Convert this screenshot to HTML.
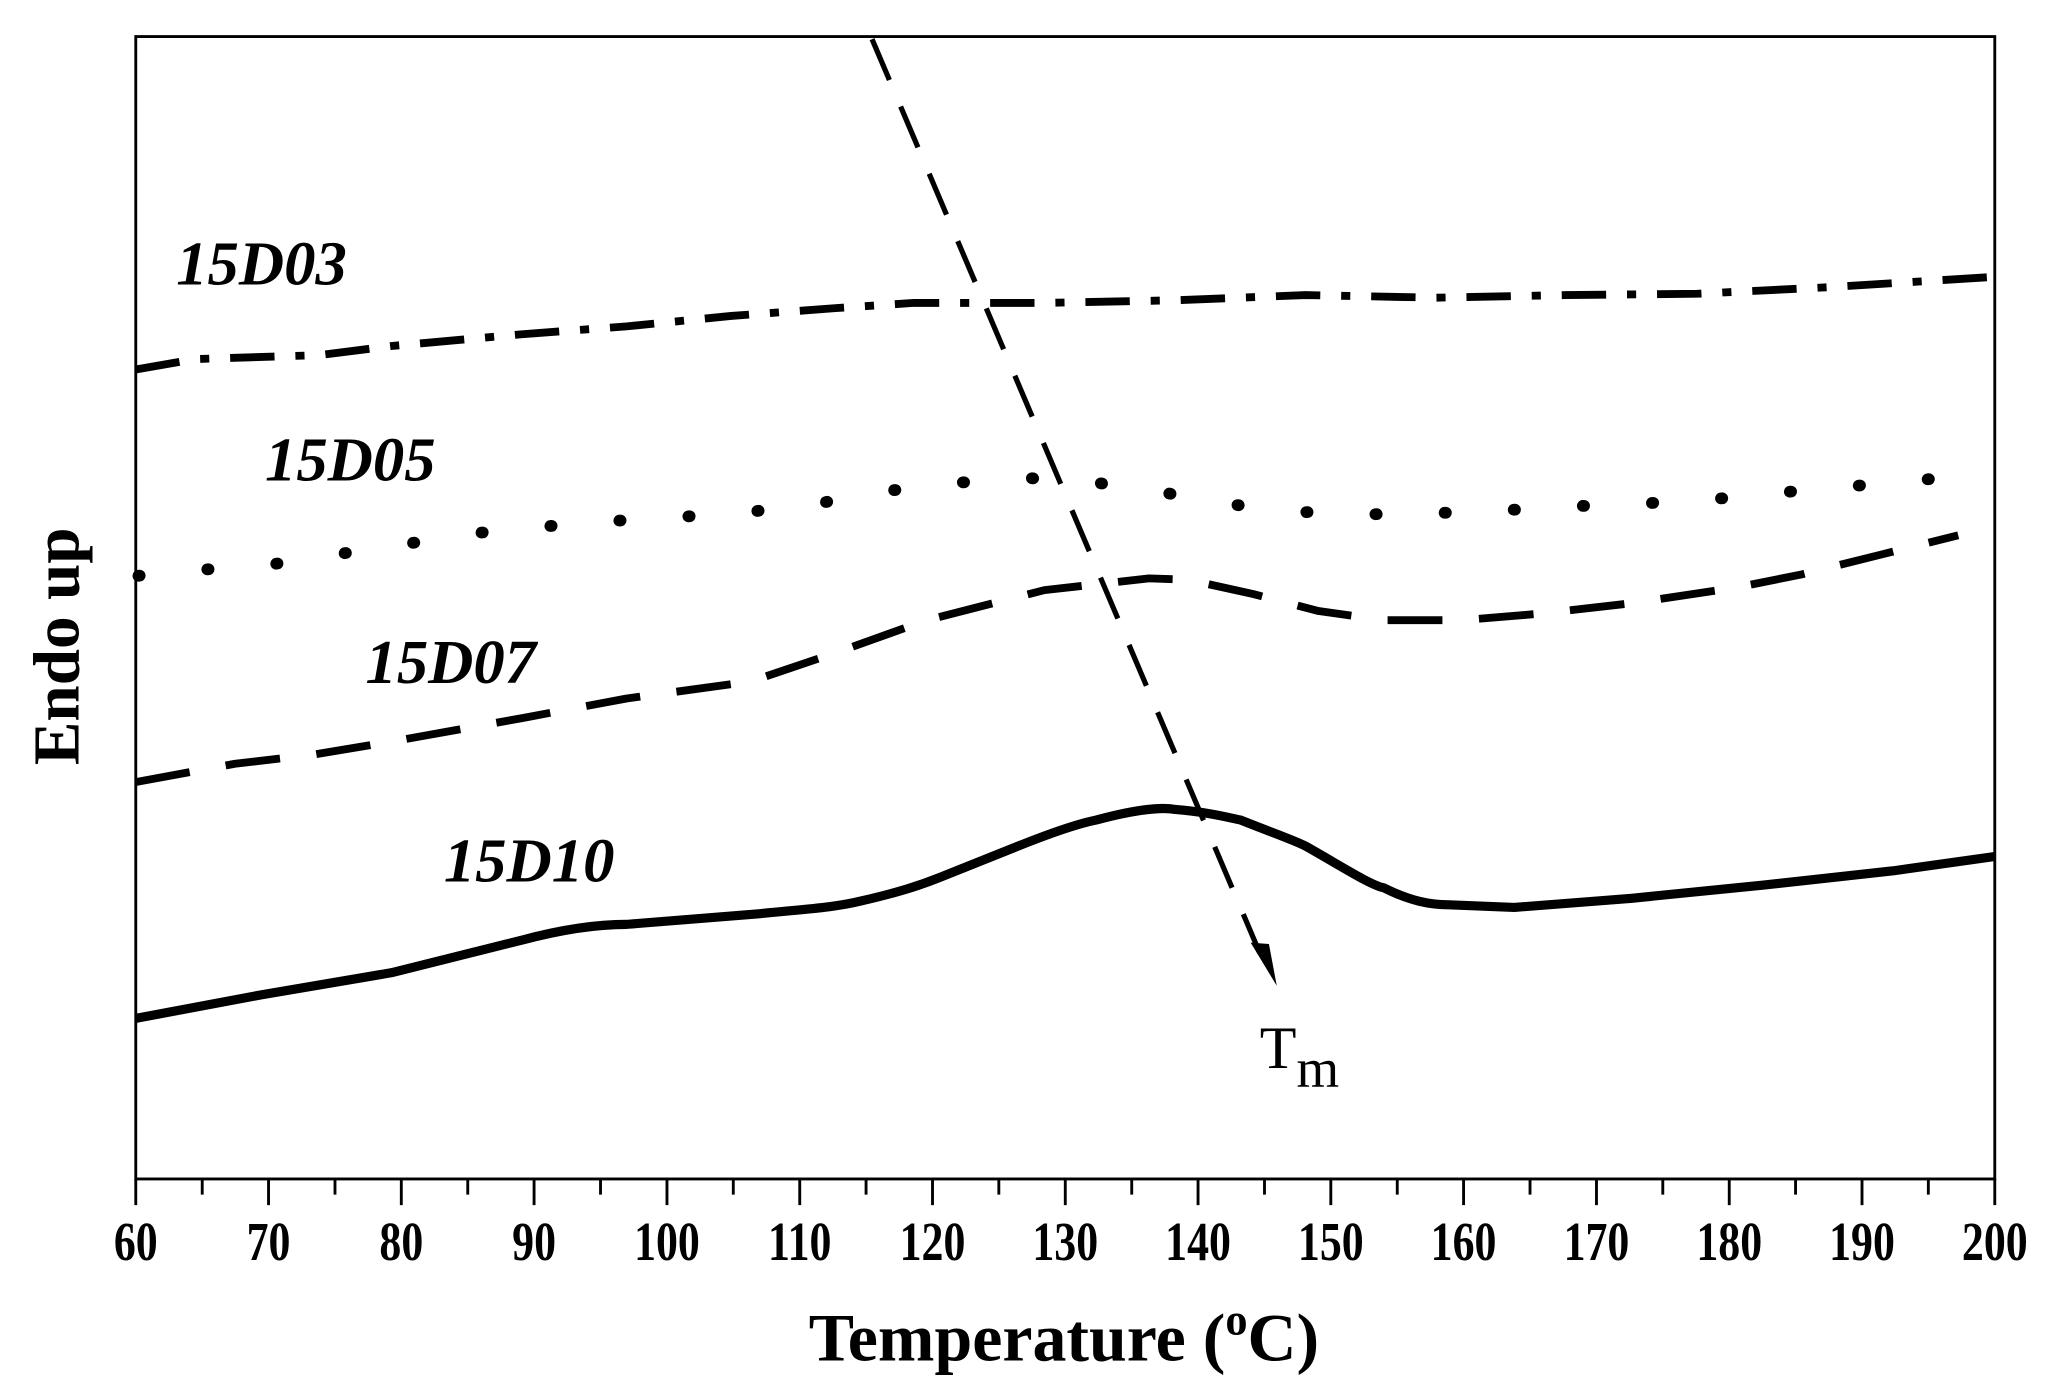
<!DOCTYPE html>
<html><head><meta charset="utf-8"><style>html,body{margin:0;padding:0;background:#fff}svg{display:block}</style></head>
<body>
<svg width="2047" height="1397" viewBox="0 0 1568 1070" preserveAspectRatio="none" xmlns="http://www.w3.org/2000/svg">
<rect width="1568" height="1070" fill="#fff"/>
<g stroke="#000" stroke-width="2.2" fill="none">
<rect x="104" y="28" width="1424" height="875"/>
<path d="M104,903v20M154.9,903v12M205.7,903v20M256.6,903v12M307.4,903v20M358.3,903v12M409.1,903v20M460,903v12M510.9,903v20M561.7,903v12M612.6,903v20M663.4,903v12M714.3,903v20M765.1,903v12M816,903v20M866.9,903v12M917.7,903v20M968.6,903v12M1019.4,903v20M1070.3,903v12M1121.1,903v20M1172,903v12M1222.9,903v20M1273.7,903v12M1324.6,903v20M1375.4,903v12M1426.3,903v20M1477.1,903v12M1528,903v20"/>
</g>
<g font-family="Liberation Serif, serif" font-weight="bold" font-size="42" text-anchor="middle" fill="#000">
<text transform="translate(104,965) scale(0.8,1)">60</text><text transform="translate(205.7,965) scale(0.8,1)">70</text><text transform="translate(307.4,965) scale(0.8,1)">80</text><text transform="translate(409.1,965) scale(0.8,1)">90</text><text transform="translate(510.9,965) scale(0.8,1)">100</text><text transform="translate(612.6,965) scale(0.8,1)">110</text><text transform="translate(714.3,965) scale(0.8,1)">120</text><text transform="translate(816,965) scale(0.8,1)">130</text><text transform="translate(917.7,965) scale(0.8,1)">140</text><text transform="translate(1019.4,965) scale(0.8,1)">150</text><text transform="translate(1121.1,965) scale(0.8,1)">160</text><text transform="translate(1222.9,965) scale(0.8,1)">170</text><text transform="translate(1324.6,965) scale(0.8,1)">180</text><text transform="translate(1426.3,965) scale(0.8,1)">190</text><text transform="translate(1528,965) scale(0.8,1)">200</text>
</g>
<text x="815" y="1042" font-family="Liberation Serif, serif" font-weight="bold" font-size="52" text-anchor="middle">Temperature (<tspan font-size="34" dy="-20">o</tspan><tspan dy="20">C)</tspan></text>
<text transform="translate(60,495) rotate(-90)" font-family="Liberation Serif, serif" font-weight="bold" font-size="50" text-anchor="middle">Endo up</text>
<g font-family="Liberation Serif, serif" font-weight="bold" font-style="italic" font-size="48">
<text x="135" y="218">15D03</text><text x="203" y="368">15D05</text><text x="280" y="523">15D07</text><text x="340" y="675">15D10</text>
</g>
<text x="965" y="818" font-family="Liberation Serif, serif" font-size="46">T<tspan font-size="42" dy="14">m</tspan></text>
<g fill="none" stroke="#000" stroke-linecap="butt" stroke-linejoin="round">
<path stroke-width="6" stroke-dasharray="34,16,7,16" d="M104,283 L150,275 L245,272 L300,265 L400,256 L480,250 L560,242 L640,236 L700,232 L800,232 L900,230 L1000,226 L1100,228 L1200,226 L1300,225 L1400,220 L1528,212"/>
<path stroke-width="9" stroke-linecap="round" stroke-dasharray="1,52" d="M106,441 L160,436 L210,432 L262,424 L315,416 L368,408 L420,403 L470,399 L520,396 L575,392 L630,385 L680,376 L730,370 L785,366 L835,369 L890,377 L940,386 L995,392 L1045,394 L1100,393 L1150,391 L1200,388 L1250,386 L1290,384 L1340,380 L1395,374 L1450,370 L1505,364"/>
<path stroke-width="6" stroke-dasharray="42,28" d="M104,599 L180,585 L240,578 L300,568 L400,550 L480,535 L575,522 L640,500 L710,475 L800,452 L880,443 L910,444 L960,455 L1010,468 L1060,475 L1120,475 L1180,470 L1250,462 L1330,450 L1380,440 L1440,425 L1500,410"/>
<path stroke-width="7" d="M104,780 L200,762 L300,745 L400,720 C430,712 455,708 480,708 L580,700 C620,696 640,695 660,690 C690,683 705,678 720,672 C750,660 770,652 780,648 C810,636 830,630 840,628 C870,620 890,618 900,620 C925,622 940,626 950,628 C975,638 990,643 1000,648 C1030,665 1050,678 1060,680 C1080,690 1095,693 1110,693 L1160,695 L1250,688 L1350,678 L1450,667 L1528,656"/>
<path stroke-width="4" stroke-dasharray="34,22" d="M668,30 L965,730"/>
</g>
<path d="M958,722 L978,755 L972,723 Z" fill="#000"/>
</svg>
</body></html>
